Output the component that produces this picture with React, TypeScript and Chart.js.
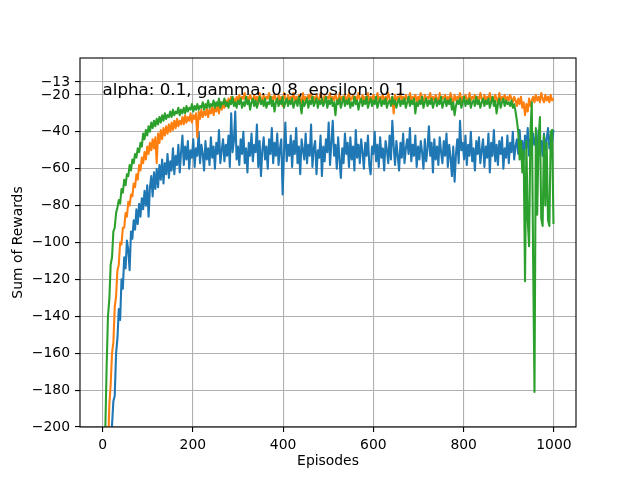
import React, { useEffect, useRef } from "react";
import { Chart, registerables } from "chart.js";

Chart.register(...registerables);

// Sampled every STEP episodes (episodes 0, 3, ..., 999)
const STEP = 3;

const blueRewards = [
  -400, -380, -350, -320, -290, -260, -228, -199, -186, -183,
  -160, -152, -136, -142, -120, -125, -108, -114, -99, -104,
  -115, -94, -98, -88, -93, -82, -90, -79, -86, -76,
  -82, -72, -80, -69, -86, -70, -64, -75, -62, -71,
  -60, -70, -58, -66, -55, -68, -57, -63, -52, -65,
  -56, -61, -49, -63, -53, -58, -47, -62, -51, -42,
  -58, -48, -55, -45, -60, -50, -54, -44, -59, -49,
  -53, -40, -57, -47, -52, -61, -45, -55, -49, -58,
  -43, -54, -48, -60, -46, -52, -39, -57, -50, -44,
  -56, -47, -53, -42, -59, -30, -51, -45, -29, -55,
  -48, -58, -44, -52, -40, -57, -49, -62, -46, -53,
  -41, -56, -47, -51, -36, -59, -45, -64, -50, -43,
  -55, -48, -60, -44, -52, -38, -57, -46, -53, -41,
  -58, -49, -44, -74, -51, -35, -56, -47, -53, -42,
  -59, -45, -52, -38, -57, -48, -63, -44, -50, -55,
  -41, -57, -47, -53, -36, -59, -49, -45, -63, -50,
  -54, -42, -64, -48, -56, -44, -51, -35, -58, -46,
  -34, -53, -47, -60, -43, -55, -65, -49, -57, -41,
  -52, -46, -59, -43, -55, -48, -61, -39, -54, -47,
  -57, -44, -51, -60, -46, -53, -42, -58, -63, -48,
  -52, -40, -56, -47, -59, -43, -54, -49, -61, -45,
  -50, -57, -42, -55, -34, -48, -58, -45, -53, -61,
  -46, -54, -41, -57, -49, -44, -52, -38, -56, -47,
  -53, -42, -59, -48, -55, -45, -51, -60, -44, -56,
  -49, -37, -53, -46, -62, -44, -55, -48, -58, -43,
  -51, -57, -45, -53, -41, -59, -47, -54, -64, -48,
  -67, -52, -44, -57, -34, -50, -46, -55, -42, -58,
  -47, -53, -40, -56, -49, -61, -45, -52, -43, -57,
  -50, -44, -59, -48, -54, -41, -62, -46, -53, -39,
  -56, -47, -58, -45, -52, -43, -60, -49, -54, -42,
  -57, -46, -51, -40, -55, -48, -44, -52, -39, -50,
  -45, -55, -42, -49, -38, -53, -44, -50, -41, -47,
  -43, -52, -39, -48, -45, -53, -41, -50, -44, -38,
  -49, -42, -46, -39,
];

const orangeRewards = [
  -350, -330, -300, -262, -214, -188, -177, -160, -154, -135,
  -129, -115, -112, -100, -101, -92, -92, -84, -86, -78,
  -80, -74, -75, -68, -70, -63, -66, -58, -61, -54,
  -57, -51, -55, -48, -52, -46, -50, -44, -49, -43,
  -57, -41, -46, -39, -44, -38, -42, -37, -41, -36,
  -40, -35, -39, -34, -38, -33, -37, -34, -36, -32,
  -36, -31, -35, -32, -34, -30, -35, -31, -33, -30,
  -43, -29, -33, -28, -32, -29, -31, -27, -32, -28,
  -30, -26, -31, -27, -29, -25, -30, -24, -28, -25,
  -27, -23, -26, -22, -25, -21, -24, -22, -25, -21,
  -23, -20, -24, -21, -22, -19, -24, -21, -23, -20,
  -22, -24, -20, -23, -21, -25, -19, -22, -24, -20,
  -23, -21, -22, -19, -24, -21, -23, -20, -22, -24,
  -20, -23, -21, -26, -19, -22, -24, -20, -23, -21,
  -22, -19, -24, -21, -23, -20, -22, -25, -19, -23,
  -21, -24, -20, -22, -19, -23, -21, -24, -20, -22,
  -23, -19, -22, -24, -20, -23, -21, -22, -19, -24,
  -21, -23, -20, -22, -24, -19, -23, -21, -22, -20,
  -24, -21, -19, -23, -22, -20, -24, -21, -23, -19,
  -22, -24, -20, -23, -21, -22, -19, -24, -21, -23,
  -20, -22, -24, -19, -23, -21, -22, -20, -24, -21,
  -23, -19, -22, -24, -21, -30, -20, -23, -21, -22,
  -19, -24, -21, -23, -20, -22, -24, -19, -23, -21,
  -22, -20, -24, -21, -23, -19, -22, -24, -20, -23,
  -21, -22, -19, -24, -21, -23, -20, -22, -24, -19,
  -23, -21, -22, -20, -24, -21, -23, -19, -22, -24,
  -20, -23, -21, -22, -19, -24, -21, -23, -20, -22,
  -24, -19, -23, -21, -22, -20, -24, -21, -23, -19,
  -22, -24, -20, -23, -21, -22, -19, -24, -21, -23,
  -20, -22, -24, -19, -23, -21, -22, -20, -24, -21,
  -23, -20, -22, -24, -21, -23, -26, -22, -25, -21,
  -27, -24, -31, -25, -29, -22, -26, -23, -21, -24,
  -20, -23, -21, -24, -19, -22, -24, -20, -23, -21,
  -24, -20, -23, -22,
];

const greenRewards = [
  -380, -262, -203, -168, -140, -131, -112, -108, -94, -92,
  -84, -81, -77, -79, -71, -73, -66, -69, -63, -64,
  -58, -61, -55, -57, -52, -54, -49, -51, -46, -48,
  -41, -44, -39, -42, -37, -40, -35, -38, -34, -37,
  -33, -36, -32, -35, -31, -34, -30, -33, -31, -32,
  -29, -32, -28, -31, -29, -30, -27, -31, -28, -30,
  -27, -30, -26, -29, -27, -28, -25, -29, -26, -28,
  -25, -28, -26, -27, -24, -28, -25, -27, -23, -27,
  -25, -26, -23, -27, -24, -26, -22, -27, -24, -25,
  -22, -26, -24, -27, -23, -25, -21, -26, -24, -27,
  -23, -25, -22, -27, -24, -26, -21, -25, -23, -28,
  -24, -22, -26, -23, -27, -24, -21, -25, -23, -26,
  -22, -27, -24, -25, -21, -26, -23, -29, -24, -22,
  -26, -23, -25, -21, -27, -24, -22, -26, -23, -25,
  -22, -27, -24, -23, -26, -21, -25, -30, -23, -26,
  -24, -22, -27, -23, -25, -21, -26, -24, -22, -27,
  -23, -25, -22, -26, -24, -21, -27, -23, -25, -22,
  -26, -24, -31, -23, -25, -22, -27, -24, -21, -26,
  -23, -25, -22, -27, -24, -26, -21, -25, -23, -28,
  -24, -22, -26, -23, -25, -21, -27, -24, -22, -26,
  -23, -25, -21, -27, -24, -22, -26, -23, -25, -22,
  -27, -24, -23, -26, -21, -25, -23, -27, -24, -22,
  -26, -23, -25, -22, -27, -24, -21, -26, -23, -25,
  -22, -30, -24, -26, -23, -25, -21, -27, -24, -22,
  -26, -23, -25, -22, -27, -24, -22, -26, -23, -25,
  -21, -27, -24, -22, -26, -23, -25, -22, -28, -24,
  -31, -26, -23, -25, -22, -27, -24, -21, -26, -23,
  -25, -22, -27, -24, -23, -26, -21, -25, -23, -27,
  -24, -22, -26, -23, -25, -22, -27, -24, -21, -26,
  -23, -30, -25, -22, -27, -24, -22, -26, -23, -25,
  -24, -26, -23, -27, -25, -29, -34, -40, -55, -45,
  -62, -50, -121, -45, -88, -102, -40, -24, -110, -181,
  -38, -85, -44, -32, -87, -91, -42, -80, -46, -88,
  -91, -40, -39, -90,
];

const xTicks = [0, 200, 400, 600, 800, 1000];
const yTicks = [-200, -180, -160, -140, -120, -100, -80, -60, -40, -20, -13];
const annotationText = "alpha: 0.1, gamma: 0.8, epsilon: 0.1";
const annotationAt = { x: 0, y: -20 };

const FAMILY = "'DejaVu Sans', 'Liberation Sans', sans-serif";
const episodes = blueRewards.map((_, i) => i * STEP);
const toPoints = (vals: number[]) => vals.map((y, i) => ({ x: episodes[i], y }));
const fmt = (v: number) => (v < 0 ? "\u2212" + Math.abs(v) : String(v));

export default function App() {
  const ref = useRef<HTMLCanvasElement>(null);

  useEffect(() => {
    if (!ref.current) return;
    const framePlugin = {
      id: "frame",
      afterDatasetsDraw(chart: any) {
        const { ctx, chartArea: a, scales } = chart;
        ctx.save();
        ctx.font = `16.7px ${FAMILY}`;
        ctx.fillStyle = "#000";
        ctx.textAlign = "left";
        ctx.textBaseline = "alphabetic";
        ctx.fillText(
          annotationText,
          scales.x.getPixelForValue(annotationAt.x),
          scales.y.getPixelForValue(annotationAt.y)
        );
        ctx.strokeStyle = "#000";
        ctx.lineWidth = 1.1;
        ctx.strokeRect(a.left, a.top, a.right - a.left, a.bottom - a.top);
        ctx.restore();
      },
    };

    const tickFont = { family: FAMILY, size: 13.9 };
    const grid = {
      color: "#b0b0b0",
      lineWidth: 1.1,
      tickColor: "#000",
      tickLength: 5,
      tickWidth: 1.1,
    };

    const chart = new Chart(ref.current, {
      type: "line",
      data: {
        datasets: [
          { data: toPoints(blueRewards), borderColor: "#1f77b4", order: 2 },
          { data: toPoints(orangeRewards), borderColor: "#ff7f0e", order: 1 },
          { data: toPoints(greenRewards), borderColor: "#2ca02c", order: 0 },
        ],
      },
      options: {
        responsive: false,
        animation: false,
        devicePixelRatio: 1,
        layout: { padding: { left: 0, top: 58, right: 64, bottom: 0 } },
        elements: {
          line: { borderWidth: 2.08, tension: 0, borderJoinStyle: "round", fill: false },
          point: { radius: 0, hoverRadius: 0 },
        },
        plugins: { legend: { display: false }, tooltip: { enabled: false } },
        scales: {
          x: {
            type: "linear",
            min: -49.95,
            max: 1048.95,
            afterFit: (s: any) => {
              s.height = 53;
            },
            afterBuildTicks: (s: any) => {
              s.ticks = xTicks.map((v) => ({ value: v }));
            },
            ticks: {
              font: tickFont,
              color: "#000",
              padding: 5,
              maxRotation: 0,
              autoSkip: false,
              callback: (v: any) => fmt(Number(v)),
            },
            grid,
            border: { display: false },
            title: {
              display: true,
              text: "Episodes",
              font: tickFont,
              color: "#000",
              padding: { top: 0, bottom: 10 },
            },
          },
          y: {
            type: "linear",
            min: -200,
            max: 0,
            afterFit: (s: any) => {
              s.width = 80;
            },
            afterBuildTicks: (s: any) => {
              s.ticks = yTicks.map((v) => ({ value: v }));
            },
            ticks: {
              font: tickFont,
              color: "#000",
              padding: 5,
              autoSkip: false,
              callback: (v: any) => fmt(Number(v)),
            },
            grid,
            border: { display: false },
            title: {
              display: true,
              text: "Sum of Rewards",
              font: tickFont,
              color: "#000",
              padding: { top: 10.4, bottom: 0 },
            },
          },
        },
      } as any,
      plugins: [framePlugin],
    });
    return () => chart.destroy();
  }, []);

  return (
    <div style={{ position: "fixed", left: 0, top: 0, width: 640, height: 480, background: "#fff" }}>
      <canvas ref={ref} width={640} height={480} style={{ display: "block", width: 640, height: 480 }} />
    </div>
  );
}
